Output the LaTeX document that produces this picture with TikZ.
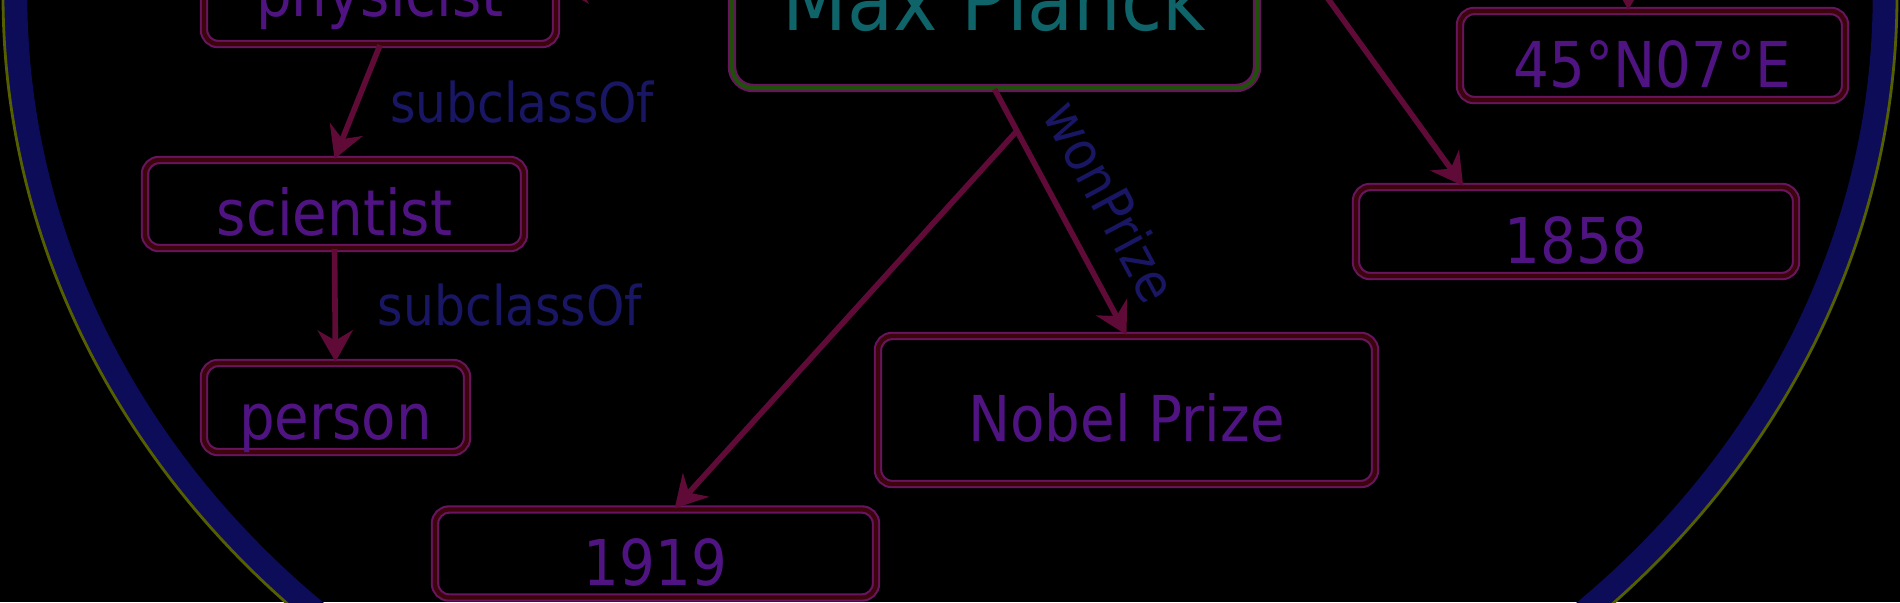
\documentclass[tikz,border=0pt]{standalone}
\usepackage{fontspec}
\setmainfont{DejaVu Sans}[FakeStretch=0.89]
\usetikzlibrary{arrows.meta,calc}

\definecolor{boxline}{RGB}{105,20,95}
\definecolor{boxcore}{RGB}{60,5,12}
\definecolor{boxtext}{RGB}{80,20,130}
\definecolor{planckcore}{RGB}{30,80,10}
\definecolor{plancktext}{RGB}{15,100,105}
\definecolor{relline}{RGB}{95,10,55}
\definecolor{relink}{RGB}{25,22,100}
\definecolor{ringblue}{RGB}{12,12,88}
\definecolor{ringedge}{RGB}{85,95,0}

\begin{document}
\begin{tikzpicture}[
	box/.style={draw=boxline, double=boxcore, double distance=1.2pt, line width=0.6pt,
		rounded corners=4pt, text=boxtext, font=\fontsize{18}{21}\selectfont,
		text height=18pt, text depth=0pt},
	rel/.style={draw=relline, line width=1.6pt, -{Stealth[length=9pt,width=10pt]}},
	relname/.style={text=relink, font=\fontsize{15.6}{18}\selectfont, inner sep=0pt}
]
		\useasboundingbox (0,0) rectangle (19,-6.02);
		\fill[black] (0,0) rectangle (19,-6.02);

		% Ring
		\draw[ringblue, line width=7pt] (9.5,0.05) ellipse (9.35 and 8.40);
		\draw[ringedge, line width=0.8pt] (9.5,0.05) ellipse (9.47 and 8.52);

		% Classes
		\node[box, minimum width=3.52cm, minimum height=1.18cm] (physicist) at (3.80,0.15) {physicist};
		\node[box, minimum width=3.79cm, minimum height=0.88cm] (scientist) at (3.345,-2.04) {scientist};
		\node[box, minimum width=2.63cm, minimum height=0.89cm] (person) at (3.355,-4.075) {person};

		% Entity and facts
		\node[box, double=planckcore, rounded corners=6pt, text=plancktext,
			font=\fontsize{24}{28}\selectfont, text height=24pt,
			minimum width=5.25cm, minimum height=2cm] (planck) at (9.945,0.12) {Max Planck};
		\node[box, minimum width=3.85cm, minimum height=0.89cm] (geo) at (16.525,-0.555) {45°N07°E};
		\node[box, minimum width=4.40cm, minimum height=0.89cm] (born1858) at (15.76,-2.315) {1858};
		\node[box, minimum width=4.97cm, minimum height=1.48cm] (nobel) at (11.265,-4.10) {Nobel Prize};
		\node[box, minimum width=4.41cm, minimum height=0.88cm] (year1919) at (6.555,-5.535) {1919};

		\coordinate (geosrc) at (16.29,1.5);
		\coordinate (bornsrc) at (12.61,0.94);
		\coordinate (fact) at ($(planck.south)!0.17!(nobel.north)$);

		% Relations
		\draw[rel] (planck) -- (physicist);
		\draw[rel] (physicist.south) -- node[relname, midway, right=0.3cm] {subclassOf} (scientist.north);
		\draw[rel] (scientist.south) -- node[relname, midway, right=0.4cm] {subclassOf} (person.north);
		\draw[rel] (planck.south) -- node[relname, pos=0.55, sloped, above=0.26cm] {wonPrize} (nobel.north);
		\draw[rel] (fact) -- (year1919.67);
		\draw[rel] (bornsrc) -- (born1858.158);
		\draw[rel] (geosrc) -- (geo.118);
	\end{tikzpicture}
\end{document}
